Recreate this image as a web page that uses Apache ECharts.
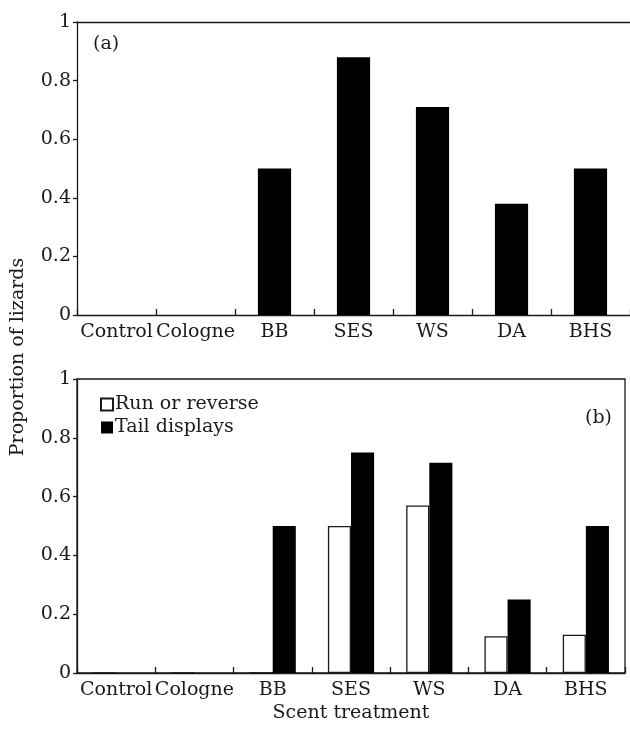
<!DOCTYPE html>
<html>
<head>
<meta charset="utf-8">
<script src="https://cdn.jsdelivr.net/npm/echarts@6/dist/echarts.min.js"></script>
<style>
html,body{margin:0;padding:0;background:#fff;}
#chart{width:630px;height:731px;}
</style>
</head>
<body>
<div id="chart"></div>
<script>
var categories = ['Control', 'Cologne', 'BB', 'SES', 'WS', 'DA', 'BHS'];
var panelA = [0, 0, 0.5, 0.88, 0.71, 0.38, 0.5];
var runOrReverse = [0, 0, 0, 0.5, 0.57, 0.125, 0.13];
var tailDisplays = [0, 0, 0.5, 0.75, 0.715, 0.25, 0.5];
var yTicks = [0, 0.2, 0.4, 0.6, 0.8, 1];

var FONT = '"DejaVu Serif", "Liberation Serif", serif';
var FS = 19;
var INK = '#1a1a1a';

var chart = echarts.init(document.getElementById('chart'), null, {renderer: 'canvas'});

function xAxisCfg(gridIndex) {
  return {
    type: 'category',
    gridIndex: gridIndex,
    data: categories,
    axisLine: {lineStyle: {color: INK, width: 1.3}},
    axisTick: {show: true, inside: true, length: 6, alignWithLabel: false, lineStyle: {color: INK, width: 1.3}},
    axisLabel: {color: INK, fontFamily: FONT, fontSize: FS, margin: 8, interval: 0},
    splitLine: {show: false}
  };
}
function yAxisCfg(gridIndex) {
  return {
    type: 'value',
    gridIndex: gridIndex,
    min: yTicks[0],
    max: yTicks[yTicks.length - 1],
    interval: 0.2,
    axisLine: {show: true, lineStyle: {color: INK, width: 1.3}},
    axisTick: {show: true, inside: false, length: 4, lineStyle: {color: INK, width: 1.3}},
    axisLabel: {color: INK, fontFamily: FONT, fontSize: FS, margin: 6},
    splitLine: {show: false}
  };
}

var option = {
  backgroundColor: '#fff',
  animation: false,
  grid: [
    {left: 77, top: 22, width: 557, height: 293, show: false, containLabel: false},
    {left: 77, top: 379, width: 548, height: 294, show: true, borderColor: INK, borderWidth: 1.3, containLabel: false}
  ],
  xAxis: [
    xAxisCfg(0),
    xAxisCfg(1),
    {
      type: 'category', gridIndex: 0, position: 'top', data: categories,
      axisLine: {show: true, lineStyle: {color: INK, width: 1.3}},
      axisTick: {show: false}, axisLabel: {show: false}, splitLine: {show: false}
    }
  ],
  yAxis: [yAxisCfg(0), yAxisCfg(1)],
  legend: {
    orient: 'vertical',
    left: 95,
    top: 390,
    itemWidth: 12,
    itemHeight: 12,
    itemGap: 4,
    icon: 'rect',
    textStyle: {color: INK, fontFamily: FONT, fontSize: FS, padding: [0, 0, 0, -3]},
    data: ['Run or reverse', 'Tail displays']
  },
  series: [
    {
      name: 'Panel a',
      type: 'bar',
      xAxisIndex: 0, yAxisIndex: 0,
      data: panelA,
      barWidth: '42%',
      itemStyle: {color: '#000'}
    },
    {
      name: 'Run or reverse',
      type: 'bar',
      xAxisIndex: 1, yAxisIndex: 1,
      data: runOrReverse,
      barWidth: '29.5%',
      barGap: '0%',
      itemStyle: {color: '#fff', borderColor: INK, borderWidth: 1.3}
    },
    {
      name: 'Tail displays',
      type: 'bar',
      xAxisIndex: 1, yAxisIndex: 1,
      data: tailDisplays,
      barWidth: '29.5%',
      barGap: '0%',
      itemStyle: {color: '#000'}
    }
  ],
  graphic: [
    {type: 'text', left: 93, top: 35, style: {text: '(a)', font: FS + 'px ' + FONT, fill: INK}},
    {type: 'text', right: 18, top: 409, style: {text: '(b)', font: FS + 'px ' + FONT, fill: INK}},
    {type: 'text', x: 18, y: 357, rotation: Math.PI / 2,
      style: {text: 'Proportion of lizards', font: FS + 'px ' + FONT, fill: INK, align: 'center', verticalAlign: 'middle'}},
    {type: 'text', x: 351, y: 713,
      style: {text: 'Scent treatment', font: FS + 'px ' + FONT, fill: INK, align: 'center', verticalAlign: 'middle'}}
  ]
};
chart.setOption(option);
</script>
</body>
</html>
